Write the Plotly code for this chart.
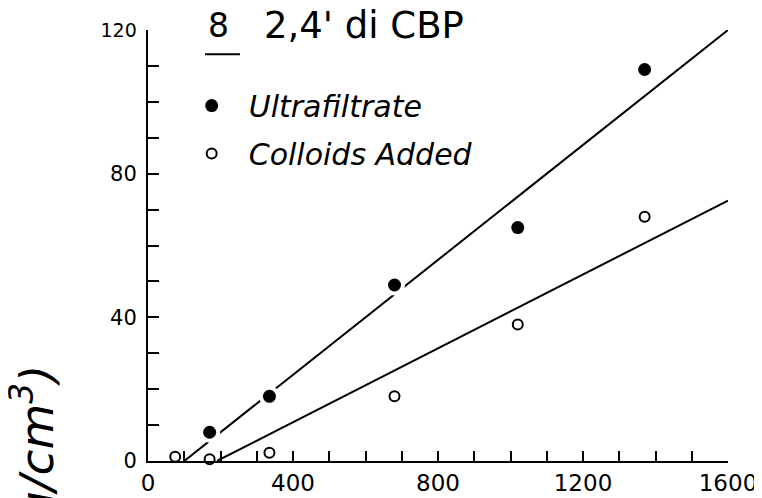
import plotly.graph_objects as go

# ---- data ----
uf_x = [170, 335, 680, 1020, 1370]
uf_y = [8, 18, 49, 65, 109]
col_x = [75, 170, 335, 680, 1020, 1370]
col_y = [1.2, 0.5, 2.3, 18, 38, 68]
uf_fit_x = [100, 1600]
uf_fit_y = [0, 120]
col_fit_x = [190, 1600]
col_fit_y = [0, 72.5]

x_ticks = list(range(0, 1601, 100))
x_labels = ["0", "400", "800", "1200", "1600"]
y_ticks = list(range(0, 121, 10))
y_labels = ["0", "40", "80", "120"]

series_names = ["Ultrafiltrate", "Colloids Added"]
title_number = "8"
title_text = "2,4' di CBP"
y_title = "(ng/cm<sup>3</sup>)"

FONT = "DejaVu Sans"

fig = go.Figure()

# fit lines
fig.add_trace(go.Scatter(x=uf_fit_x, y=uf_fit_y, mode="lines",
                         line=dict(color="black", width=2), showlegend=False,
                         hoverinfo="skip"))
fig.add_trace(go.Scatter(x=col_fit_x, y=col_fit_y, mode="lines",
                         line=dict(color="black", width=2), showlegend=False,
                         hoverinfo="skip"))
# white halos to break lines around points
fig.add_trace(go.Scatter(x=uf_x, y=uf_y, mode="markers",
                         marker=dict(symbol="circle", size=21, color="white"),
                         showlegend=False, hoverinfo="skip", cliponaxis=False))
fig.add_trace(go.Scatter(x=col_x, y=col_y, mode="markers",
                         marker=dict(symbol="circle", size=15, color="white"),
                         showlegend=False, hoverinfo="skip", cliponaxis=False))
# data points
fig.add_trace(go.Scatter(x=uf_x, y=uf_y, mode="markers", name=series_names[0],
                         legendgroup="a",
                         marker=dict(symbol="circle", size=13, color="black"),
                         cliponaxis=False))
fig.add_trace(go.Scatter(x=col_x, y=col_y, mode="markers", name=series_names[1],
                         legendgroup="b",
                         marker=dict(symbol="circle-open", size=10, color="black",
                                     line=dict(width=2, color="black")),
                         cliponaxis=False))

def tick_text(vals, labels, step):
    out = []
    it = iter(labels)
    for v in vals:
        out.append(next(it) if v % step == 0 else " ")
    return out

yt = tick_text(y_ticks, y_labels, 40)
yt = ['<span style="font-size:19px">%s</span>' % t if t == "120" else t for t in yt]

# the page body has an 8px default margin, so margins are offset by 8px
fig.update_layout(
    width=762, height=498,
    margin=dict(l=140, r=42, t=22, b=45, autoexpand=False),
    paper_bgcolor="white", plot_bgcolor="white",
    font=dict(family=FONT, color="black"),
    showlegend=True,
    legend=dict(x=0.046, y=0.885, xanchor="left", yanchor="top",
                bgcolor="rgba(0,0,0,0)", itemwidth=64, tracegroupgap=6,
                font=dict(family=FONT, size=30, style="italic", color="black")),
    xaxis=dict(range=[0, 1600], showline=True, linecolor="black", linewidth=2,
               ticks="inside", ticklen=10, tickwidth=2, tickcolor="black",
               tickvals=x_ticks, ticktext=tick_text(x_ticks, x_labels, 400),
               tickfont=dict(family=FONT, size=23, color="black"),
               showgrid=False, zeroline=False, automargin=False),
    yaxis=dict(range=[0, 120], showline=True, linecolor="black", linewidth=2,
               ticks="inside", ticklen=11, tickwidth=2, tickcolor="black",
               tickvals=y_ticks, ticktext=yt, ticklabelstandoff=5,
               tickfont=dict(family=FONT, size=21, color="black"),
               showgrid=False, zeroline=False, automargin=False),
)

fig.add_annotation(x=0.1224, y=1.0093, xref="paper", yref="paper",
                   text=title_number, showarrow=False, xanchor="center",
                   yanchor="middle", font=dict(family=FONT, size=33, color="black"))
fig.add_annotation(x=0.1966, y=1.0116, xref="paper", yref="paper",
                   text=title_text, showarrow=False, xanchor="left",
                   yanchor="middle", font=dict(family=FONT, size=37, color="black"))
fig.add_shape(type="line", xref="paper", yref="paper",
              x0=0.0983, x1=0.1586, y0=0.944, y1=0.944,
              line=dict(color="black", width=2))
fig.add_annotation(x=-0.197, y=0.2297, xref="paper", yref="paper",
                   text=y_title, showarrow=False, textangle=-90,
                   xanchor="center", yanchor="top",
                   font=dict(family=FONT, size=47, style="italic", color="black"))

fig.write_html("out.html")
